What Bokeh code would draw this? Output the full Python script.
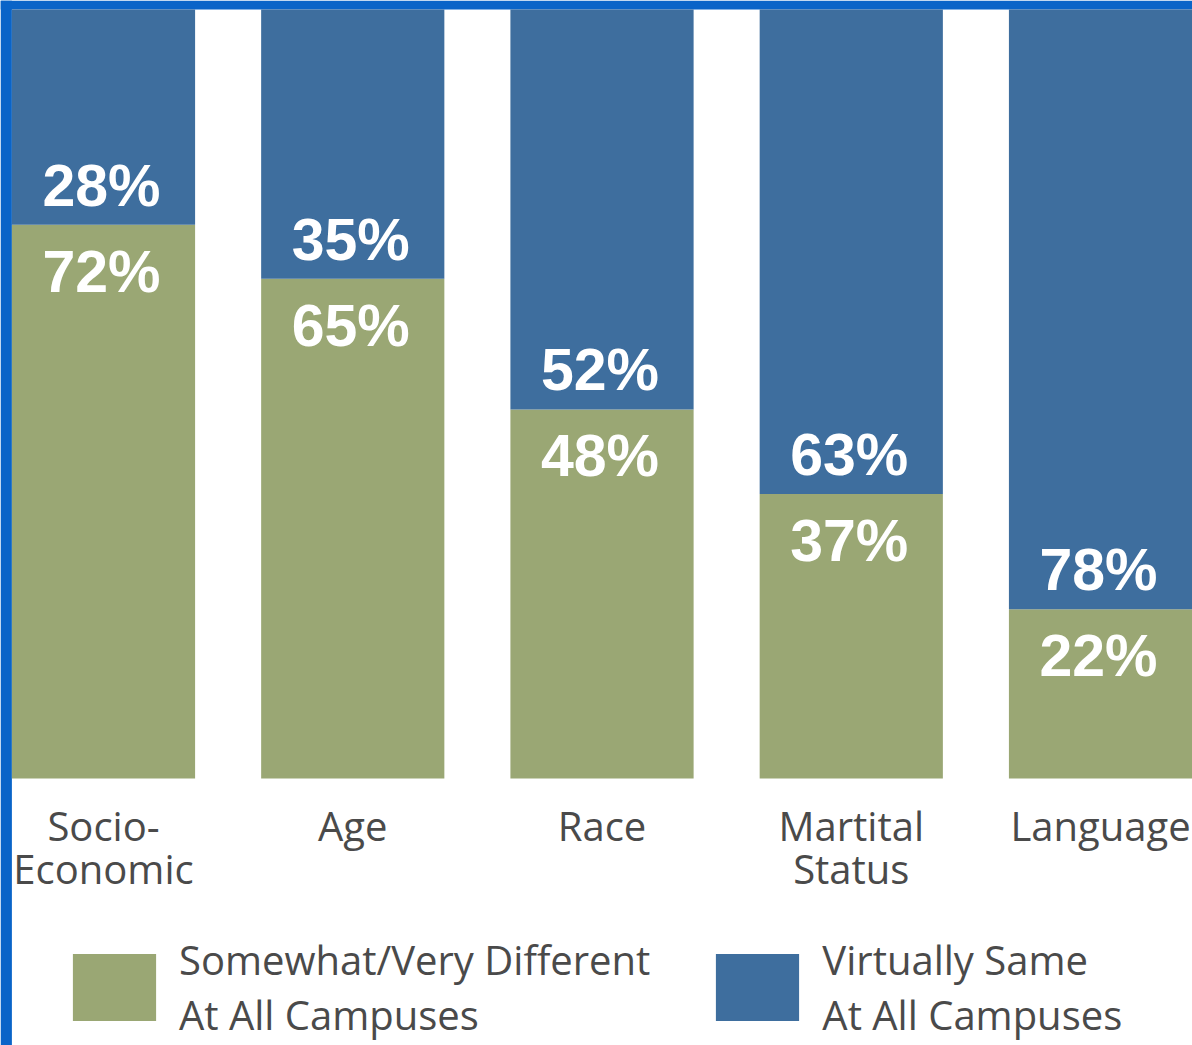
from bokeh.plotting import figure
from bokeh.models import Range1d, BoxAnnotation, Legend, LegendItem, ColumnDataSource
from bokeh.core.properties import value
from bokeh.embed import file_html
from bokeh.resources import INLINE

# ---- data ----
categories = ["Socio-\nEconomic", "Age", "Race", "Martital\nStatus", "Language"]
different = [72, 65, 48, 37, 22]
same = [28, 35, 52, 63, 78]
series_names = ["Somewhat/Very Different\nAt All Campuses",
                "Virtually Same\nAt All Campuses"]

# ---- styles ----
GREEN = "#9AA774"
BLUE = "#3E6E9E"
SLIDE_BLUE = "#0A64C8"
LABEL_GRAY = "#4A4A4A"
BAR_W = 0.735
W, H = 1192, 1045

x = list(range(len(categories)))
line1 = [c.split("\n")[0] for c in categories]
line2 = [c.split("\n")[1] if "\n" in c else "" for c in categories]
totals = [d + s for d, s in zip(different, same)]

src = ColumnDataSource(dict(
    x=x, different=different, same=same,
    d_lab=[f"{v}%" for v in different],
    s_lab=[f"{v}%" for v in same],
    line1=line1, line2=line2, zero=[0] * len(x),
))

p = figure(width=W, height=H,
           x_range=Range1d(-0.4132, 4.369), y_range=Range1d(-34.72, 101.17),
           output_backend="svg", toolbar_location=None, min_border=0,
           x_axis_location=None, y_axis_location=None,
           outline_line_color=None, background_fill_color="white",
           border_fill_color="white")
p.grid.visible = False

# slide background strips (left edge and top edge)
p.add_layout(BoxAnnotation(right=x[0] - BAR_W / 2, fill_color=SLIDE_BLUE,
                           fill_alpha=1, line_color=None, level="underlay"))
p.add_layout(BoxAnnotation(bottom=max(totals), fill_color=SLIDE_BLUE,
                           fill_alpha=1, line_color=None, level="underlay"))

rs = p.vbar_stack(["different", "same"], x="x", width=BAR_W,
                  color=[GREEN, BLUE], line_width=0, source=src)

pct_font = value("Liberation Sans")
p.text(x="x", y="different", text="s_lab", source=src, text_align="center",
       text_baseline="alphabetic", y_offset=-39, x_offset=-2, text_color="white",
       text_font=pct_font, text_font_style="bold", text_font_size="59px")
p.text(x="x", y="different", text="d_lab", source=src, text_align="center",
       text_baseline="alphabetic", y_offset=47, x_offset=-2, text_color="white",
       text_font=pct_font, text_font_style="bold", text_font_size="59px")

cat_font = value("Open Sans")
p.text(x="x", y="zero", text="line1", source=src, text_align="center",
       text_baseline="alphabetic", y_offset=47, text_color=LABEL_GRAY,
       text_font=cat_font, text_font_size="40px")
p.text(x="x", y="zero", text="line2", source=src, text_align="center",
       text_baseline="alphabetic", y_offset=90, text_color=LABEL_GRAY,
       text_font=cat_font, text_font_size="40px")

legend = Legend(items=[LegendItem(label=series_names[0], renderers=[rs[0]]),
                       LegendItem(label=series_names[1], renderers=[rs[1]])],
                orientation="horizontal", location=(62, 3),
                glyph_width=104, glyph_height=84, label_standoff=13,
                spacing=55, padding=0, margin=0,
                border_line_color=None, background_fill_alpha=0,
                label_text_font="Open Sans", label_text_font_size="40px",
                label_text_color=LABEL_GRAY)
p.add_layout(legend)

open("out.html", "w").write(file_html(p, INLINE))
